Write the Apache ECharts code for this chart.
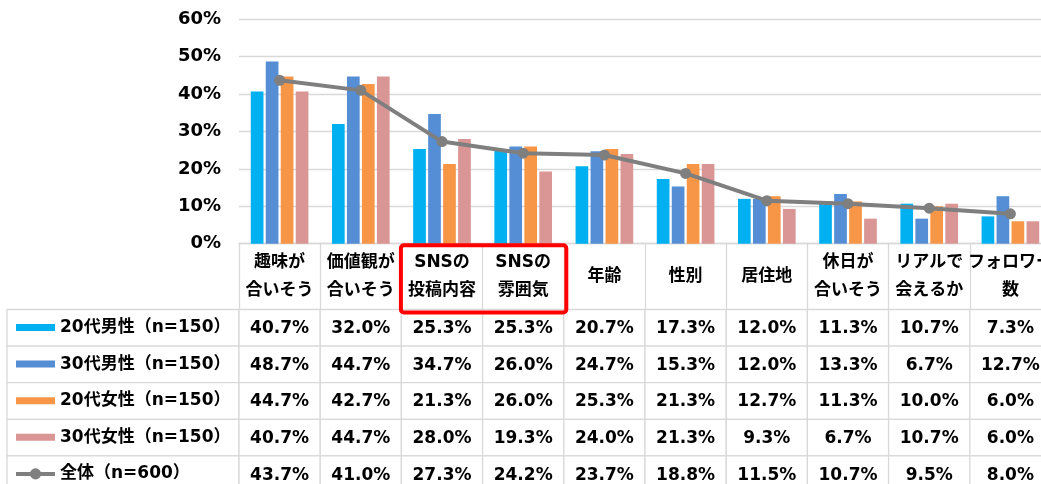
<!DOCTYPE html>
<html><head><meta charset="utf-8">
<script src="https://cdn.jsdelivr.net/npm/echarts@6/dist/echarts.min.js"></script>
<style>html,body{margin:0;padding:0;background:#fff}#c{width:1041px;height:484px}</style>
</head><body><div id="c"></div>
<script>
const categories = ['趣味が\n合いそう','価値観が\n合いそう','SNSの\n投稿内容','SNSの\n雰囲気','年齢','性別','居住地','休日が\n合いそう','リアルで\n会えるか','フォロワー\n数'];
const seriesNames = ['20代男性（n=150）','30代男性（n=150）','20代女性（n=150）','30代女性（n=150）','全体（n=600）'];
const male20 = [40.7,32.0,25.3,25.3,20.7,17.3,12.0,11.3,10.7,7.3];
const male30 = [48.7,44.7,34.7,26.0,24.7,15.3,12.0,13.3,6.7,12.7];
const female20 = [44.7,42.7,21.3,26.0,25.3,21.3,12.7,11.3,10.0,6.0];
const female30 = [40.7,44.7,28.0,19.3,24.0,21.3,9.3,6.7,10.7,6.0];
const total = [43.7,41.0,27.3,24.2,23.7,18.8,11.5,10.7,9.5,8.0];
const yMin = 0, yMax = 60, yStep = 10;
const highlighted = [2,3];

const colors = ['#00B0F0','#558ED5','#F79646','#D99694','#7F7F7F'];
const FONT = '"DejaVu Sans","Noto Sans CJK JP",sans-serif';
const allRows = [male20, male30, female20, female30, total];

const cellData = [];
allRows.forEach((row, ri) => row.forEach((v, ci) => cellData.push([ci, ri, v])));
const legendCells = seriesNames.map((n, ri) => [0, ri]);

const chart = echarts.init(document.getElementById('c'));

function cellRender(params, api) {
  const c = api.coord([api.value(0), api.value(1)]);
  const s = api.size([1, 1]);
  return {type:'group', children:[
    {type:'rect', shape:{x:c[0]-s[0]/2, y:c[1]-s[1]/2, width:s[0], height:s[1]},
     style:{fill:'#fff', stroke:'#d9d9d9', lineWidth:1.3}},
    {type:'text', x:c[0], y:c[1]+1, style:{text:api.value(2).toFixed(1)+'%', fill:'#000',
      font:'bold 17px ' + FONT, align:'center', verticalAlign:'middle'}}
  ]};
}
function legendCellRender(params, api) {
  const c = api.coord([api.value(0), api.value(1)]);
  const s = api.size([1, 1]);
  return {type:'rect', shape:{x:c[0]-s[0]/2, y:c[1]-s[1]/2, width:s[0], height:s[1]},
    style:{fill:'#fff', stroke:'#d9d9d9', lineWidth:1.3}};
}

const barSeries = [male20, male30, female20, female30].map((d, i) => ({
  name: seriesNames[i], type:'bar', data:d, xAxisIndex:0, yAxisIndex:0,
  barGap:'18%', barCategoryGap:'29%', itemStyle:{color:colors[i]}, z:2
}));

chart.setOption({
  animation:false,
  textStyle:{fontFamily:FONT},
  grid:[
    {left:239, top:19.3, width:812, height:224.4, outerBoundsMode:'none', containLabel:false},
    {left:239, top:309.5, width:812, height:183, outerBoundsMode:'none', containLabel:false},
    {left:7, top:309.5, width:232, height:183, outerBoundsMode:'none', containLabel:false}
  ],
  legend:{
    orient:'vertical', left:14, top:317.5, padding:0, itemWidth:39, itemHeight:14, itemGap:16.6,
    selectedMode:false,
    textStyle:{fontSize:17, fontWeight:'bold', lineHeight:20, fontFamily:FONT, color:'#000'},
    data: seriesNames.map((n, i) => i < 4 ? {name:n, icon:'path://M0,0H39V7H0Z'} : {name:n, lineStyle:{width:4, color:colors[4]}})
  },
  xAxis:[
    {type:'category', gridIndex:0, data:categories, boundaryGap:true,
     axisLine:{lineStyle:{color:'#d9d9d9', width:1.3}},
     axisTick:{show:true, interval:0, length:66, lineStyle:{color:'#d9d9d9', width:1.3}},
     axisLabel:{interval:0, margin:33, verticalAlign:'middle', fontSize:17, fontWeight:'bold',
       lineHeight:28, color:'#000', fontFamily:FONT}},
    {type:'category', gridIndex:1, data:categories, show:false},
    {type:'category', gridIndex:2, data:['legend'], show:false}
  ],
  yAxis:[
    {type:'value', gridIndex:0, min:yMin, max:yMax, interval:yStep,
     axisLine:{show:false}, axisTick:{show:false},
     splitLine:{lineStyle:{color:'#d9d9d9', width:1.3}},
     axisLabel:{formatter:'{value}%', fontSize:18, fontWeight:'bold', color:'#000', margin:18, fontFamily:FONT}},
    {type:'category', gridIndex:1, data:seriesNames, inverse:true, show:false},
    {type:'category', gridIndex:2, data:seriesNames, inverse:true, show:false}
  ],
  series:[
    ...barSeries,
    {name:seriesNames[4], type:'line', data:total, xAxisIndex:0, yAxisIndex:0,
     symbol:'circle', symbolSize:11, lineStyle:{color:colors[4], width:4},
     itemStyle:{color:colors[4]}, z:5},
    {name:'table', type:'custom', xAxisIndex:1, yAxisIndex:1, data:cellData, renderItem:cellRender, silent:true},
    {name:'legendcol', type:'custom', xAxisIndex:2, yAxisIndex:2, data:legendCells, renderItem:legendCellRender, silent:true, z:0}
  ]
});

const band = chart.convertToPixel({xAxisIndex:0}, 1) - chart.convertToPixel({xAxisIndex:0}, 0);
const x0 = chart.convertToPixel({xAxisIndex:0}, highlighted[0]) - band/2;
const x1 = chart.convertToPixel({xAxisIndex:0}, highlighted[1]) + band/2;
const yTop = chart.convertToPixel({yAxisIndex:0}, yMin);
const rowBand = chart.convertToPixel({yAxisIndex:1}, 1) - chart.convertToPixel({yAxisIndex:1}, 0);
const yBot = chart.convertToPixel({yAxisIndex:1}, 0) - rowBand/2;
chart.setOption({graphic:[{type:'rect', shape:{x:x0-0.5, y:yTop+1.5, width:x1-x0+3, height:yBot-yTop+1.5, r:3},
  style:{fill:'none', stroke:'#FF0000', lineWidth:4}, z:100}]});
</script></body></html>
